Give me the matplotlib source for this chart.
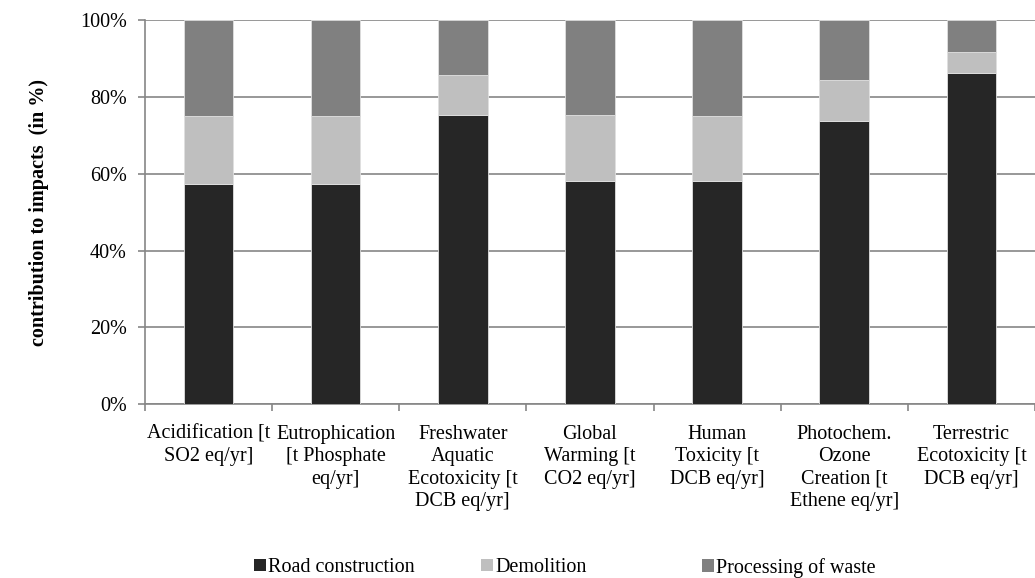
import numpy as np
import matplotlib
matplotlib.use("Agg")
from matplotlib import pyplot as plt
from matplotlib.patches import Patch

categories = [
    "Acidification [t\nSO2 eq/yr]",
    "Eutrophication\n[t Phosphate\neq/yr]",
    "Freshwater\nAquatic\nEcotoxicity [t\nDCB eq/yr]",
    "Global\nWarming [t\nCO2 eq/yr]",
    "Human\nToxicity [t\nDCB eq/yr]",
    "Photochem.\nOzone\nCreation [t\nEthene eq/yr]",
    "Terrestric\nEcotoxicity [t\nDCB eq/yr]",
]
road_construction = [57.4, 57.4, 75.3, 58.1, 58.1, 73.8, 86.3]
demolition = [17.6, 17.6, 10.3, 17.2, 16.9, 10.7, 5.4]
processing_of_waste = [25.0, 25.0, 14.4, 24.7, 25.0, 15.5, 8.3]

series_names = ["Road construction", "Demolition", "Processing of waste"]
colors = ["#262626", "#bfbfbf", "#808080"]

plt.rcParams["font.family"] = ["Liberation Serif", "DejaVu Serif"]
plt.rcParams["font.size"] = 14.5

fig = plt.figure(figsize=(10.35, 5.78), dpi=100)
ax = fig.add_axes([0.140, 0.301, 0.860, 0.664])

x = np.arange(len(categories))
width = 0.39
bottom = np.zeros(len(categories))
handles = []
for vals, name, c in zip([road_construction, demolition, processing_of_waste], series_names, colors):
    ax.bar(x, vals, width, bottom=bottom, color=c, edgecolor="#e0e0e0", linewidth=0.6, zorder=3)
    bottom += np.array(vals)
    handles.append(Patch(facecolor=c, edgecolor="none", label=name))

ax.set_ylim(0, 100)
ax.set_xlim(-0.5, 6.47)
ax.set_yticks(np.arange(0, 101, 20))
ax.set_yticklabels([f"{v}%" for v in range(0, 101, 20)])
ax.yaxis.grid(True, color="#868686", linewidth=1.2, zorder=0)

ax.set_xticks(x)
ax.set_xticklabels(categories, linespacing=1.24)
ax.set_xticks(np.arange(-0.5, 6.6, 1), minor=True)
ax.tick_params(axis="x", which="major", length=0, pad=15)
ax.tick_params(axis="x", which="minor", length=5, color="#868686", width=1.2)
ax.tick_params(axis="y", length=5, color="#868686", width=1.2, pad=8)

for s in ["top", "right"]:
    ax.spines[s].set_visible(False)
for s in ["left", "bottom"]:
    ax.spines[s].set_color("#868686")
    ax.spines[s].set_linewidth(1.2)

ax.set_ylabel("contribution to impacts  (in %)", fontweight="bold", labelpad=22)

# legend entries evenly spaced like the original
for h, xpos in zip(handles, [0.245, 0.465, 0.678]):
    fig.legend(handles=[h], loc="center left", bbox_to_anchor=(xpos, 0.018),
               frameon=False, handlelength=0.6, handleheight=0.6,
               handletextpad=0.1, borderpad=0, borderaxespad=0)

fig.savefig("out.png", dpi=100)
